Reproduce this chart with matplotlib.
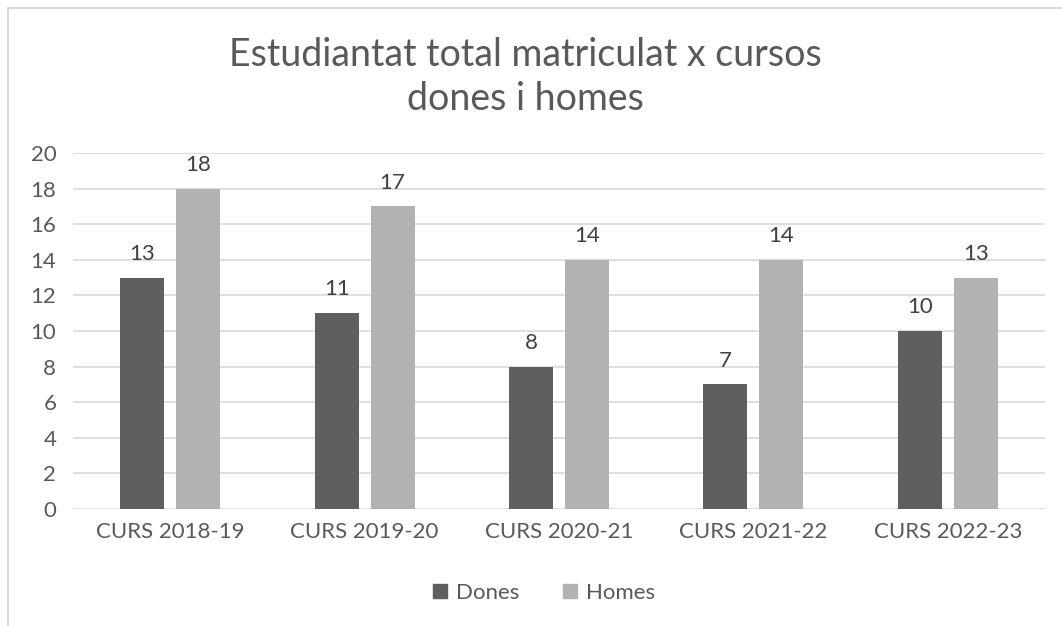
import matplotlib
matplotlib.use("Agg")
import matplotlib.pyplot as plt
import numpy as np
from matplotlib.patches import Rectangle
from matplotlib.lines import Line2D

plt.rcParams['font.family'] = ['Lato', 'DejaVu Sans']

categories = ["CURS 2018-19", "CURS 2019-20", "CURS 2020-21", "CURS 2021-22", "CURS 2022-23"]
dones = [13, 11, 8, 7, 10]
homes = [18, 17, 14, 14, 13]
series_names = ["Dones", "Homes"]
yticks = [0, 2, 4, 6, 8, 10, 12, 14, 16, 18, 20]

text_col = "#595959"
c_dones = "#5f5f5f"
c_homes = "#b2b2b2"

W, H = 1062, 626
fig = plt.figure(figsize=(W/100, H/100), dpi=100)
ax = fig.add_axes([73/W, 1-509/H, (1045-73)/W, (509-153)/H])

x = np.arange(len(categories))
bw = 0.226
off = 0.144
b1 = ax.bar(x - off, dones, bw, color=c_dones, zorder=3, label=series_names[0])
b2 = ax.bar(x + off, homes, bw, color=c_homes, zorder=3, label=series_names[1])
for bars in (b1, b2):
    for r in bars:
        ax.annotate(f"{int(r.get_height())}", (r.get_x()+r.get_width()/2, r.get_height()),
                    xytext=(0, 10), textcoords="offset points", ha="center", va="bottom",
                    fontsize=16, color="#404040")

ax.set_xlim(-0.5, len(categories)-0.5)
ax.set_ylim(0, 20)
ax.set_yticks(yticks)
ax.set_xticks(x)
ax.set_xticklabels(categories)
ax.tick_params(axis='both', length=0, labelsize=16, labelcolor=text_col)
ax.tick_params(axis='y', pad=12)
ax.tick_params(axis='x', pad=9)
ax.grid(axis='y', color="#d9d9d9", linewidth=1.2, zorder=0)
for s in ax.spines.values():
    s.set_visible(False)

fig.text(525/W, 1-77/H, "Estudiantat total matriculat x cursos\ndones i homes", ha="center", va="center",
         fontsize=27, color=text_col, linespacing=1.3)

handles = [Rectangle((0, 0), 1, 1, color=c_dones), Rectangle((0, 0), 1, 1, color=c_homes)]
fig.legend(handles, series_names, loc="center", bbox_to_anchor=(544/W, 1-593/H), ncol=2, frameon=False,
           fontsize=16, labelcolor=text_col, handlelength=0.6, handleheight=0.6, handletextpad=0.4,
           columnspacing=2.0)

border = Line2D([8/W, 8/W, 1.0], [0, 1-8/H, 1-8/H], transform=fig.transFigure, color="#d9d9d9", linewidth=1.5)
fig.add_artist(border)

fig.savefig("out.png", dpi=100)
